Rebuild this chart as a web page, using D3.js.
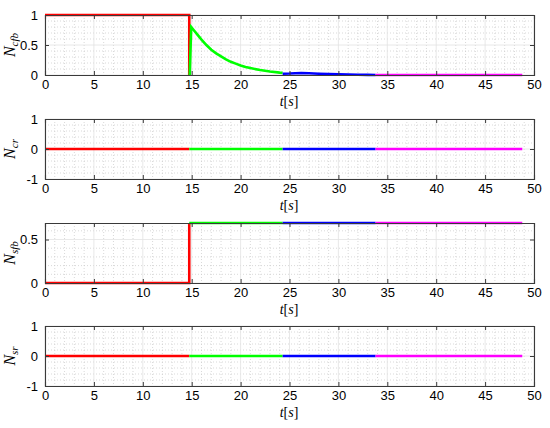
<!DOCTYPE html>
<html>
<head>
<meta charset="utf-8">
<script src="https://cdn.jsdelivr.net/npm/d3@7"></script>
<style>
body{margin:0;background:#fff;}
svg{display:block;}
.tick text{font-family:Arial,"Liberation Sans",sans-serif;font-size:13px;fill:#000;}
</style>
</head>
<body>
<div id="chart"></div>
<script>
// time breaks between the 4 phases
var phaseBreaks = [0, 14.75, 24.3, 33.8, 48.8];
var phaseColors = ["#ff0000", "#00ff00", "#0000ff", "#ff00ff"];

// panel 1 : N_cfb
var cfbRed = [[0,1],[14.75,1],[14.75,0]];
var cfbGreen = [[14.8,0],[14.95,0.8],[15.2,0.75],[15.5,0.69],[16,0.59],[16.5,0.5],[17,0.42],[17.5,0.36],[18,0.31],[18.5,0.26],[19,0.22],[19.5,0.19],[20,0.16],[20.5,0.135],[21,0.115],[22,0.082],[23,0.058],[24,0.04],[24.3,0.036]];
var cfbBlue = [[24.3,0.02],[25,0.024],[25.6,0.03],[26.2,0.033],[27,0.029],[28,0.022],[29,0.016],[30,0.011],[31,0.007],[32,0.004],[33,0.002],[33.8,0]];
var cfbMagenta = [[33.8,0],[48.8,0]];

// panel 2 : N_cr
var crValue = 0;
// panel 3 : N_sfb
var sfbRed = [[0,0],[14.75,0],[14.75,0.69]];
var sfbValue = 0.69;
// panel 4 : N_sr
var srValue = 0;

var xTicks = [0,5,10,15,20,25,30,35,40,45,50];
var panels = [
  {lab:"N", sub:"cfb", dom:[0,1], ticks:[0,0.5,1], tickFmt:["0","0.5","1"], minor:0.1},
  {lab:"N", sub:"cr", dom:[-1,1], ticks:[-1,0,1], tickFmt:["-1","0","1"], minor:0.2},
  {lab:"N", sub:"sfb", dom:[0,0.69], ticks:[0,0.5], tickFmt:["0","0.5"], minor:0.1},
  {lab:"N", sub:"sr", dom:[-1,1], ticks:[-1,0,1], tickFmt:["-1","0","1"], minor:0.2}
];
var tops = [15, 119, 223, 326];
var ph = 60;

function flatSegs(v){
  var s = [];
  for(var i = 0; i < 4; i++){
    s.push([[phaseBreaks[i], v],[phaseBreaks[i+1], v]]);
  }
  return s;
}

var lineSets = [
  [cfbRed, cfbGreen, cfbBlue, cfbMagenta],
  flatSegs(crValue),
  [sfbRed].concat(flatSegs(sfbValue).slice(1)),
  flatSegs(srValue)
];

var W = 550, H = 428;
var svg = d3.select("#chart").append("svg").attr("width", W).attr("height", H);

var x = d3.scaleLinear().domain([0,50]).range([45,534]);

panels.forEach(function(p, pi){
  var top = tops[pi], bot = top + ph;
  var y = d3.scaleLinear().domain(p.dom).range([bot, top]);
  var g = svg.append("g");

  // minor grid
  var xm = d3.range(0, 50.001, 1).filter(function(d){ return d % 5 != 0; });
  g.selectAll(".xm").data(xm).enter().append("line")
    .attr("x1", d => x(d)).attr("x2", d => x(d)).attr("y1", top).attr("y2", bot)
    .attr("stroke", "#c8c8c8").attr("stroke-width", 0.7).attr("stroke-dasharray", "1,2");
  var ym = [];
  for(var v = p.dom[0] + p.minor; v < p.dom[1] - 1e-6; v += p.minor){
    var isMajor = p.ticks.some(function(t){ return Math.abs(t - v) < 1e-6; });
    if(!isMajor) ym.push(v);
  }
  g.selectAll(".ym").data(ym).enter().append("line")
    .attr("x1", 45).attr("x2", 534).attr("y1", d => y(d)).attr("y2", d => y(d))
    .attr("stroke", "#c8c8c8").attr("stroke-width", 0.7).attr("stroke-dasharray", "1,2");

  // major grid
  g.selectAll(".xg").data(xTicks).enter().append("line")
    .attr("x1", d => x(d)).attr("x2", d => x(d)).attr("y1", top).attr("y2", bot)
    .attr("stroke", "#e2e2e2").attr("stroke-width", 0.8);
  g.selectAll(".yg").data(p.ticks).enter().append("line")
    .attr("x1", 45).attr("x2", 534).attr("y1", d => y(d)).attr("y2", d => y(d))
    .attr("stroke", "#e2e2e2").attr("stroke-width", 0.8);

  // data lines
  var line = d3.line().x(d => x(d[0])).y(d => y(d[1]));
  lineSets[pi].forEach(function(seg, si){
    g.append("path").datum(seg)
      .attr("d", line)
      .attr("fill", "none")
      .attr("stroke", phaseColors[si])
      .attr("stroke-width", 2.6);
  });

  // axes (ticks inward, box)
  var xAxis = d3.axisBottom(x).tickValues(xTicks).tickSize(-4).tickPadding(6).tickFormat(d3.format("d"));
  var gx = g.append("g").attr("transform", "translate(0," + bot + ")").call(xAxis);
  var xAxisTop = d3.axisTop(x).tickValues(xTicks).tickSize(-4).tickFormat("");
  var gxt = g.append("g").attr("transform", "translate(0," + top + ")").call(xAxisTop);
  var yAxis = d3.axisLeft(y).tickValues(p.ticks).tickSize(-4).tickPadding(7)
    .tickFormat(function(d, i){ return p.tickFmt[i]; });
  var gy = g.append("g").attr("transform", "translate(45,0)").call(yAxis);
  var yAxisR = d3.axisRight(y).tickValues(p.ticks).tickSize(-4).tickFormat("");
  var gyr = g.append("g").attr("transform", "translate(534,0)").call(yAxisR);
  [gx, gxt, gy, gyr].forEach(function(a){
    a.select(".domain").attr("stroke", "#3a3a3a").attr("stroke-width", 1.1);
    a.selectAll(".tick line").attr("stroke", "#3a3a3a").attr("stroke-width", 1);
  });
  gx.selectAll(".tick text").attr("dy", "0.6em");

  // x label t[s]
  var xl = g.append("text")
    .attr("x", 289).attr("y", bot + 31)
    .attr("text-anchor", "middle")
    .style("font-family", "'Liberation Serif','DejaVu Serif',serif")
    .style("font-size", "14px");
  xl.append("tspan").style("font-style", "italic").text("t");
  xl.append("tspan").text("[");
  xl.append("tspan").style("font-style", "italic").text("s");
  xl.append("tspan").text("]");

  // y label
  var yl = g.append("text")
    .attr("transform", "translate(15," + (top + ph / 2) + ") rotate(-90)")
    .attr("text-anchor", "middle")
    .style("font-family", "'Liberation Serif','DejaVu Serif',serif")
    .style("font-style", "italic")
    .style("font-size", "16px");
  yl.append("tspan").text(p.lab);
  yl.append("tspan").attr("dy", 3).style("font-size", "11px").text(p.sub);
});
</script>
</body>
</html>
